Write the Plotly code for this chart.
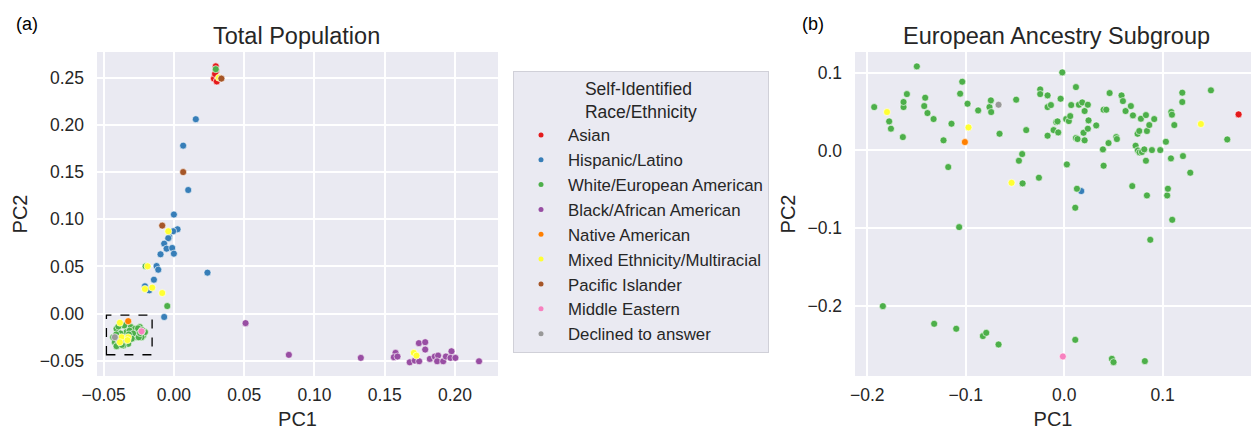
import plotly.graph_objects as go

# ---------------- data ----------------
CATEGORIES = ["Asian", "Hispanic/Latino", "White/European American", "Black/African American",
              "Native American", "Mixed Ethnicity/Multiracial", "Pacific Islander",
              "Middle Eastern", "Declined to answer"]
COLORS = ["#e41a1c", "#377eb8", "#4daf4a", "#984ea3", "#ff7f00", "#ffff33",
          "#a65628", "#f781bf", "#999999"]

# Panel (a): Total Population  (PC1, PC2)
a_asian = [(0.0298, 0.262), (0.0300, 0.257), (0.0285, 0.249), (0.0310, 0.248),
           (0.0325, 0.250), (0.0293, 0.254), (0.0305, 0.246)]
a_hispanic = [(0.0156, 0.206), (0.0066, 0.178), (0.0102, 0.131), (0.0000, 0.105),
              (0.0026, 0.0894), (-0.0005, 0.0873), (-0.0033, 0.0813), (-0.0040, 0.0800),
              (-0.0069, 0.0742), (-0.0052, 0.0689), (-0.0012, 0.0696), (0.0000, 0.0636),
              (-0.0095, 0.0629), (-0.0123, 0.0505), (-0.0111, 0.0466), (-0.0142, 0.0360),
              (-0.0206, 0.0290), (-0.0175, 0.0247), (0.0239, 0.0435), (-0.0069, -0.0035)]
a_white = [(0.0298, 0.259), (-0.0201, 0.0502), (-0.0047, 0.0081),
           (-0.0353, -0.0124), (-0.0408, -0.0160), (-0.0432, -0.0249), (-0.0420, -0.0302),
           (-0.0396, -0.0319), (-0.0372, -0.0284), (-0.0349, -0.0231), (-0.0337, -0.0195),
           (-0.0306, -0.0142), (-0.0277, -0.0160), (-0.0254, -0.0178), (-0.0242, -0.0142),
           (-0.0266, -0.0213), (-0.0289, -0.0249), (-0.0218, -0.0231), (-0.0206, -0.0195),
           (-0.0230, -0.0249), (-0.0277, -0.0249), (-0.0325, -0.0319), (-0.0360, -0.0337),
           (-0.0408, -0.0344), (-0.0380, -0.0210), (-0.0410, -0.0220), (-0.0390, -0.0270),
           (-0.0315, -0.0180), (-0.0290, -0.0210), (-0.0250, -0.0250), (-0.0345, -0.0280),
           (-0.0370, -0.0330), (-0.0255, -0.0155), (-0.0225, -0.0175), (-0.0320, -0.0220),
           (-0.0395, -0.0135), (-0.0300, -0.0265), (-0.0240, -0.0205)]
a_black = [(0.0510, -0.0100), (0.0818, -0.0436), (0.1330, -0.0468), (0.1577, -0.0415),
           (0.1565, -0.0461), (0.1591, -0.0454), (0.1678, -0.0515), (0.1714, -0.0497),
           (0.1745, -0.0504), (0.1743, -0.0312), (0.1788, -0.0302), (0.1788, -0.0380),
           (0.1821, -0.0479), (0.1856, -0.0454), (0.1880, -0.0444), (0.1873, -0.0504),
           (0.1916, -0.0504), (0.1935, -0.0454), (0.1975, -0.0398), (0.1968, -0.0468),
           (0.2003, -0.0468), (0.2171, -0.0504)]
a_native = [(-0.0325, -0.0079)]
a_mixed = [(0.0320, 0.250), (-0.0040, 0.0873), (-0.0187, 0.0502), (-0.0206, 0.0262),
           (-0.0154, 0.0276), (-0.0083, 0.0219), (0.1707, -0.0415), (0.1726, -0.0444),
           (-0.0384, -0.0096), (-0.0372, -0.0249), (-0.0384, -0.0302), (-0.0325, -0.0249),
           (-0.0330, -0.0280)]
a_pacific = [(0.0338, 0.249), (0.0066, 0.150), (-0.0083, 0.0933)]
a_middle = [(-0.0230, -0.0187)]
a_declined = [(-0.0420, -0.0249)]

# Panel (b): European Ancestry Subgroup (PC1, PC2)
b_asian = [(0.1771, 0.0463)]
b_hispanic = [(0.0173, -0.0523)]
b_white = [(-0.193, 0.0557), (-0.1778, 0.0373), (-0.176, 0.0279), (-0.1639, 0.0171),
           (-0.1632, 0.0557), (-0.1632, 0.0622), (-0.1598, 0.0724), (-0.1497, 0.108),
           (-0.1842, -0.2002), (-0.1422, 0.057), (-0.1412, 0.0677), (-0.1389, 0.048),
           (-0.1327, 0.0403), (-0.1226, 0.0129), (-0.1178, -0.0214), (-0.1145, 0.0343),
           (-0.1067, -0.0986), (-0.1057, 0.0729), (-0.1036, 0.0883), (-0.0982, 0.060),
           (-0.0874, 0.0514), (-0.0759, 0.0557), (-0.0745, 0.0643), (-0.0742, 0.0493),
           (-0.0657, 0.0214), (-0.0488, 0.0652), (-0.046, -0.0133), (-0.0427, -0.0047),
           (-0.0423, -0.0424), (-0.0386, 0.0261), (-0.0257, -0.0351), (-0.0244, 0.0784),
           (-0.0244, 0.0724), (-0.0169, 0.0707), (-0.0169, 0.0557), (-0.0135, 0.0583),
           (-0.0169, 0.0189), (-0.0108, 0.0261), (-0.0081, 0.0364), (-0.0068, 0.0373),
           (-0.0061, 0.0231), (-0.0037, 0.0664), (-0.002, 0.1003), (0.002, 0.0403),
           (0.0027, -0.018), (0.0047, 0.0377), (0.0061, 0.0441), (0.0071, 0.0583),
           (0.0119, 0.0814), (0.0119, 0.0159), (0.0135, 0.0146), (0.0129, -0.0493),
           (0.0112, -0.0737), (0.0112, -0.2435), (0.0149, 0.0587), (0.0183, 0.0617),
           (0.0207, 0.0506), (0.0196, 0.0227), (0.0207, 0.0129), (0.024, 0.0587),
           (0.0247, 0.0386), (0.024, 0.0279), (0.0325, 0.0321), (0.0393, 0.0013),
           (0.040, 0.0523), (0.0427, 0.0523), (0.040, -0.0197), (0.045, 0.0094),
           (0.0461, 0.0737), (0.0484, -0.2679), (0.0501, -0.2722), (0.0528, 0.0171),
           (0.0535, 0.0146), (0.0582, 0.0707), (0.0596, 0.0634), (0.0623, 0.0506),
           (0.0677, 0.057), (0.0698, 0.045), (0.0691, -0.0459), (0.0725, 0.006),
           (0.0745, 0.0214), (0.0748, 0.0), (0.0762, 0.0249), (0.0765, -0.0026),
           (0.0779, 0.0407), (0.0789, -0.0021), (0.0813, 0.0013), (0.0819, -0.2709),
           (0.083, 0.0454), (0.083, -0.0133), (0.084, 0.0249), (0.084, -0.0579),
           (0.0864, 0.0326), (0.0874, -0.1149), (0.0891, 0.0004), (0.0914, 0.0403),
           (0.0975, 0.0004), (0.1033, 0.0111), (0.1046, -0.0579), (0.1053, -0.0493),
           (0.1084, -0.0103), (0.1087, 0.0493), (0.1094, 0.0459), (0.1097, -0.0892),
           (0.1118, 0.0326), (0.1199, 0.0622), (0.1199, 0.0742), (0.1206, -0.0073),
           (0.128, -0.0287), (0.149, 0.0772), (0.1656, 0.0141), (-0.1321, -0.2229),
           (-0.1097, -0.2293), (-0.0826, -0.2387), (-0.0792, -0.2345), (-0.0667, -0.2495)]
b_black = []
b_native = [(-0.1009, 0.0107)]
b_mixed = [(-0.180, 0.0493), (-0.0972, 0.0296), (-0.0535, -0.0416), (0.1388, 0.0339)]
b_pacific = []
b_middle = [(-0.0014, -0.2649)]
b_declined = [(-0.0667, 0.0587)]

PANEL_A = [a_asian, a_hispanic, a_white, a_black, a_native, a_mixed, a_pacific, a_middle, a_declined]
PANEL_B = [b_asian, b_hispanic, b_white, b_black, b_native, b_mixed, b_pacific, b_middle, b_declined]

# dashed zoom box in panel (a), data coordinates
BOX_X = [-0.048, -0.0155]
BOX_Y = [-0.0435, -0.0015]

A_XTICKS = [-0.05, 0.00, 0.05, 0.10, 0.15, 0.20]
A_YTICKS = [-0.05, 0.00, 0.05, 0.10, 0.15, 0.20, 0.25]
B_XTICKS = [-0.2, -0.1, 0.0, 0.1]
B_YTICKS = [-0.2, -0.1, 0.0, 0.1]

# ---------------- figure ----------------
FONT = "Liberation Sans, Arial, Helvetica, sans-serif"
TXT = "#262626"
W, H = 1252, 430

fig = go.Figure()
for name, color, pts in zip(CATEGORIES, COLORS, PANEL_A):
    fig.add_trace(go.Scatter(
        x=[p[0] for p in pts], y=[p[1] for p in pts], mode="markers", name=name,
        marker=dict(color=color, size=7, line=dict(color="white", width=0.6)),
        xaxis="x", yaxis="y", showlegend=False))
for name, color, pts in zip(CATEGORIES, COLORS, PANEL_B):
    fig.add_trace(go.Scatter(
        x=[p[0] for p in pts], y=[p[1] for p in pts], mode="markers", name=name,
        marker=dict(color=color, size=7, line=dict(color="white", width=0.6)),
        xaxis="x2", yaxis="y2", showlegend=False))
# legend entries (small markers like the reference legend)
for name, color in zip(CATEGORIES, COLORS):
    fig.add_trace(go.Scatter(
        x=[None], y=[None], mode="markers", name=name,
        marker=dict(color=color, size=5, line=dict(width=0)),
        xaxis="x", yaxis="y", showlegend=True, hoverinfo="skip"))

fig.add_shape(type="rect", xref="x", yref="y", x0=BOX_X[0], x1=BOX_X[1], y0=BOX_Y[0], y1=BOX_Y[1],
              line=dict(color="black", width=1.3, dash="dash"), fillcolor="rgba(0,0,0,0)")

ydom = [1 - 376 / H, 1 - 52 / H]
axis_common = dict(showgrid=True, gridcolor="white", gridwidth=1.5, zeroline=False,
                   showline=False, ticks="", tickfont=dict(family=FONT, size=17.5, color=TXT),
                   automargin=False, title_font=dict(family=FONT, size=20, color=TXT))

fig.update_layout(
    width=W, height=H, margin=dict(l=0, r=0, t=0, b=0),
    paper_bgcolor="white", plot_bgcolor="#eaeaf2",
    font=dict(family=FONT, color=TXT),
    xaxis=dict(domain=[97 / W, 498 / W], range=[-0.0547, 0.2306], tickvals=A_XTICKS,
               tickformat=".2f", anchor="y", title=dict(text="PC1", standoff=9),
               ticklabelstandoff=6, **axis_common),
    yaxis=dict(domain=ydom, range=[-0.066, 0.2772], tickvals=A_YTICKS, tickformat=".2f",
               anchor="x", title=dict(text="PC2", standoff=6), ticklabelstandoff=12, **axis_common),
    xaxis2=dict(domain=[855 / W, 1251 / W], range=[-0.2125, 0.1897], tickvals=B_XTICKS,
                tickformat=".1f", anchor="y2", title=dict(text="PC1", standoff=9),
                ticklabelstandoff=6, **axis_common),
    yaxis2=dict(domain=ydom, range=[-0.29, 0.1265], tickvals=B_YTICKS, tickformat=".1f",
                anchor="x2", title=dict(text="PC2", standoff=6), ticklabelstandoff=12, **axis_common),
    legend=dict(x=513 / W, y=1 - 71 / H, xanchor="left", yanchor="top",
                bgcolor="#eaeaf2", bordercolor="#d0d0d8", borderwidth=1,
                font=dict(family=FONT, size=16.8, color=TXT),
                title=dict(text="Self-Identified<br>Race/Ethnicity", side="top center",
                           font=dict(family=FONT, size=17.5, color=TXT)),
                tracegroupgap=0, itemwidth=44),
    showlegend=True,
)

fig.add_annotation(text="Total Population", x=296 / W, y=1 - 36 / H, xref="paper", yref="paper",
                   showarrow=False, xanchor="center", yanchor="middle",
                   font=dict(family=FONT, size=23.5, color=TXT))
fig.add_annotation(text="European Ancestry Subgroup", x=1056 / W, y=1 - 36 / H, xref="paper",
                   yref="paper", showarrow=False, xanchor="center", yanchor="middle",
                   font=dict(family=FONT, size=23.5, color=TXT))
fig.add_annotation(text="(a)", x=27 / W, y=1 - 24 / H, xref="paper", yref="paper", showarrow=False,
                   xanchor="center", yanchor="middle", font=dict(family=FONT, size=18, color="black"))
fig.add_annotation(text="(b)", x=813 / W, y=1 - 24 / H, xref="paper", yref="paper", showarrow=False,
                   xanchor="center", yanchor="middle", font=dict(family=FONT, size=18, color="black"))

fig.write_html("out.html")
